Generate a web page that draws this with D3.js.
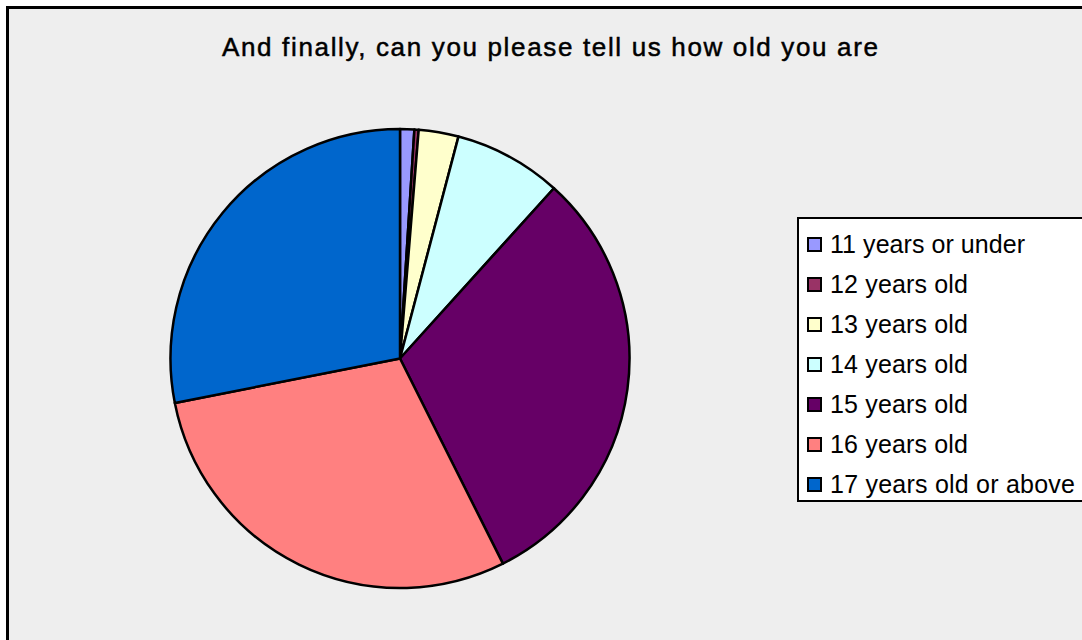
<!DOCTYPE html>
<html>
<head>
<meta charset="utf-8">
<script src="https://cdn.jsdelivr.net/npm/d3@7/dist/d3.min.js"></script>
<style>
  html, body { margin: 0; padding: 0; background: #ffffff; }
  svg { display: block; }
  text { font-family: "Liberation Sans", Arial, sans-serif; fill: #000; }
</style>
</head>
<body>
<svg id="chart" width="1082" height="640"></svg>
<script>
// Survey answers: share of respondents (%) per age group
const categories = [
  "11 years or under",
  "12 years old",
  "13 years old",
  "14 years old",
  "15 years old",
  "16 years old",
  "17 years old or above"
];
const values = [1.0, 0.3, 2.8, 7.6, 30.9, 29.3, 28.1];
const colors = ["#9999FF", "#993366", "#FFFFCC", "#CCFFFF", "#660066", "#FF8080", "#0066CC"];
const title = "And finally, can you please tell us how old you are";

const svg = d3.select("#chart");

// chart area with its frame (frame runs off the right and bottom edges)
svg.append("rect")
  .attr("x", 7.5).attr("y", 7.5)
  .attr("width", 1090).attr("height", 650)
  .attr("fill", "#EEEEEE")
  .attr("stroke", "#000").attr("stroke-width", 3);

// title
svg.append("text")
  .attr("x", 222).attr("y", 56)
  .attr("font-size", 26)
  .attr("stroke", "#000")
  .attr("stroke-width", 0.5)
  .attr("textLength", 656)
  .attr("lengthAdjust", "spacing")
  .text(title);

// pie
const cx = 400, cy = 358.5, r = 229.5;
const pie = d3.pie().sort(null).value(d => d.v);
const arc = d3.arc().innerRadius(0).outerRadius(r);
const data = categories.map((c, i) => ({ c, v: values[i], col: colors[i] }));

svg.append("g")
  .attr("transform", `translate(${cx},${cy})`)
  .selectAll("path")
  .data(pie(data))
  .join("path")
  .attr("d", arc)
  .attr("fill", d => d.data.col)
  .attr("stroke", "#000")
  .attr("stroke-width", 2.5)
  .attr("stroke-linejoin", "round");

// legend
const legend = svg.append("g");
legend.append("rect")
  .attr("x", 798).attr("y", 218)
  .attr("width", 300).attr("height", 283)
  .attr("fill", "#fff")
  .attr("stroke", "#000").attr("stroke-width", 2);

const textWidths = [195, 138, 138, 138, 138, 138, 245];
const y0 = 244.5, step = 40;
const items = legend.selectAll("g.item")
  .data(data)
  .join("g")
  .attr("class", "item")
  .attr("transform", (d, i) => `translate(0,${y0 + i * step})`);

items.append("rect")
  .attr("x", 808).attr("y", -6.5)
  .attr("width", 13).attr("height", 13)
  .attr("fill", d => d.col)
  .attr("stroke", "#000").attr("stroke-width", 2);

items.append("text")
  .attr("x", 830).attr("y", 8.5)
  .attr("font-size", 25)
  .attr("textLength", (d, i) => textWidths[i])
  .attr("lengthAdjust", "spacing")
  .text(d => d.c);
</script>
</body>
</html>
